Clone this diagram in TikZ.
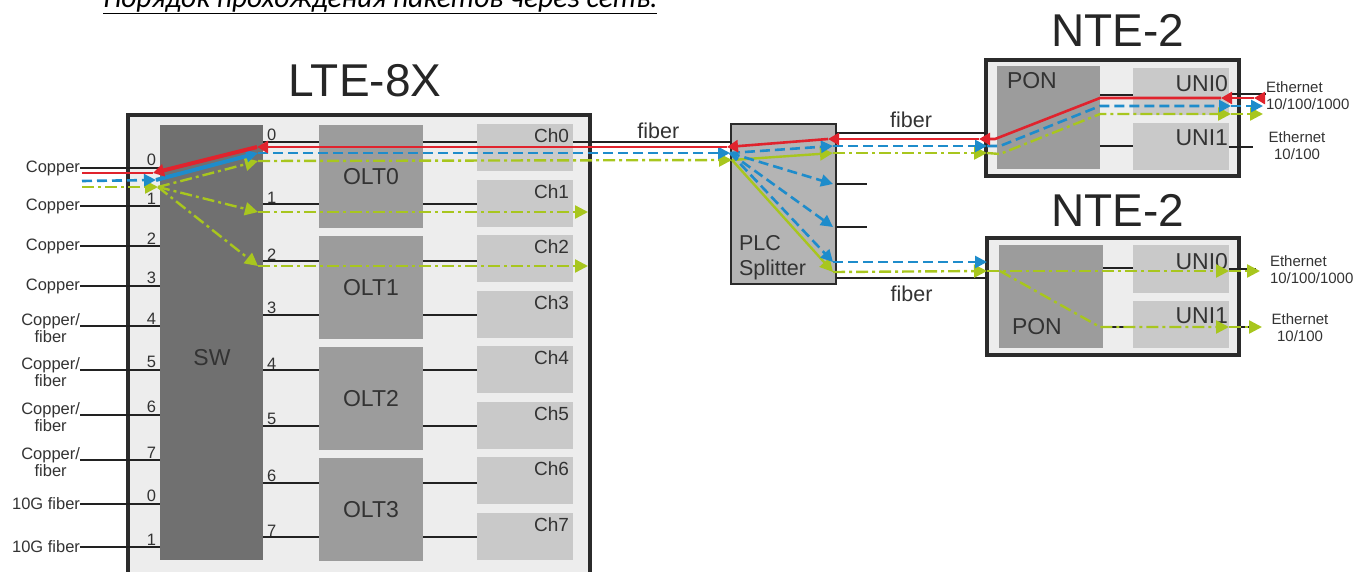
\documentclass[tikz,border=0pt]{standalone}
\usepackage{fontspec}
\setmainfont{Liberation Sans}
\newfontfamily\capfont{Carlito}
\usetikzlibrary{arrows.meta}
\definecolor{Frame}{HTML}{2B2B2B}
\definecolor{Mist}{HTML}{EDEDED}
\definecolor{SwGray}{HTML}{707070}
\definecolor{OltGray}{HTML}{9C9C9C}
\definecolor{ChGray}{HTML}{C9C9C9}
\definecolor{SplGray}{HTML}{B4B4B4}
\definecolor{TxtGray}{HTML}{333333}
\definecolor{WireBlack}{HTML}{222222}
\definecolor{UpRed}{HTML}{E0232D}
\definecolor{DnBlue}{HTML}{1E8CCB}
\definecolor{BcGreen}{HTML}{A8C61E}

\begin{document}
\begin{tikzpicture}[x=1pt,y=-1pt,
  every node/.style={inner sep=0pt,outer sep=0pt,text=TxtGray},
  wire/.style={draw=WireBlack,line width=1.4pt},
  upline/.style={UpRed,line width=2.6pt,-{Triangle[length=11pt,width=12pt]}},
  dnline/.style={DnBlue,line width=2.6pt,dash pattern=on 10pt off 5pt,-{Triangle[length=12pt,width=12pt]}},
  bcline/.style={BcGreen,line width=2.4pt,dash pattern=on 12pt off 4pt on 3pt off 4pt,-{Triangle[length=13pt,width=13pt]}},
  f15/.style={font=\fontsize{15}{17}\selectfont},
  f16/.style={font=\fontsize{16.5}{17}\selectfont},
  f19/.style={font=\fontsize{19}{22}\selectfont},
  f21/.style={font=\fontsize{21.5}{25}\selectfont},
  f23/.style={font=\fontsize{23}{27}\selectfont},
  f46/.style={font=\fontsize{46}{55}\selectfont,text=black!85}]
\useasboundingbox (0,0) rectangle (1368,571);

\node[anchor=base west,font=\capfont\itshape\fontsize{29.5}{34}\selectfont,text=black] (capt) at (103,7) {\underline{Порядок прохождения пакетов через сеть.}};

\node[anchor=north west,draw=Frame,line width=3.5pt,fill=Mist,minimum width=462pt,minimum height=480pt] (lte) at (128,115) {};
\node[anchor=north west,fill=SwGray,minimum width=103pt,minimum height=435pt] (sw) at (160,125) {};
\node[f23] (swl) at (212,358) {SW};
\foreach \i in {0,...,3}
  \node[anchor=north west,fill=OltGray,minimum width=104pt,minimum height=103pt,f23] (olt\i) at (319,125+111*\i) {OLT\i};
\foreach \i in {0,...,7} {
  \node[anchor=north west,fill=ChGray,minimum width=96pt,minimum height=47pt] (ch\i) at (477,124+55.5*\i) {};
  \node[anchor=north east,f19] (chl\i) at ([xshift=-4pt,yshift=-5pt]ch\i.north east) {Ch\i};
}
\node[f46] (ltet) at (365,81) {LTE-8X};

\node[anchor=north west,draw=Frame,line width=1.5pt,fill=SplGray,minimum width=105pt,minimum height=160pt] (spl) at (731,124) {};
\node[anchor=south west,align=left,f21] (spll) at ([xshift=8pt,yshift=4pt]spl.south west) {PLC\\Splitter};

\node[anchor=north west,draw=Frame,line width=3.5pt,fill=Mist,minimum width=253pt,minimum height=116pt] (nteA) at (986,60) {};
\node[anchor=north west,fill=OltGray,minimum width=103pt,minimum height=103pt] (ponA) at (997,66) {};
\node[anchor=north west,fill=ChGray,minimum width=96pt,minimum height=47pt] (uni0A) at (1133,68) {};
\node[anchor=north west,fill=ChGray,minimum width=96pt,minimum height=47pt] (uni1A) at (1133,123) {};
\node[anchor=north west,f23] (ponAl) at ([xshift=10pt,yshift=-6pt]ponA.north west) {PON};
\node[anchor=north east,f23] (uni0Al) at ([xshift=-1pt,yshift=-7pt]uni0A.north east) {UNI0};
\node[anchor=north east,f23] (uni1Al) at ([xshift=-1pt,yshift=-7pt]uni1A.north east) {UNI1};
\node[f46] (nteAt) at (1118,30) {NTE-2};

\node[anchor=north west,draw=Frame,line width=3.5pt,fill=Mist,minimum width=252pt,minimum height=117pt] (nteB) at (987,238) {};
\node[anchor=north west,fill=OltGray,minimum width=104pt,minimum height=103pt] (ponB) at (999,245) {};
\node[anchor=north west,fill=ChGray,minimum width=96pt,minimum height=48pt] (uni0B) at (1133,245) {};
\node[anchor=north west,fill=ChGray,minimum width=96pt,minimum height=47pt] (uni1B) at (1133,301) {};
\node[anchor=south west,f23] (ponBl) at ([xshift=13pt,yshift=13pt]ponB.south west) {PON};
\node[anchor=north east,f23] (uni0Bl) at ([xshift=-1pt,yshift=-8pt]uni0B.north east) {UNI0};
\node[anchor=north east,f23] (uni1Bl) at ([xshift=-1pt,yshift=-7pt]uni1B.north east) {UNI1};
\node[f46] (nteBt) at (1118,210) {NTE-2};

\node[anchor=west,align=left,f15] (ethA0) at (1266,96) {Ethernet\\10/100/1000};
\node[align=center,f15] (ethA1) at (1297,146) {Ethernet\\10/100};
\node[anchor=west,align=left,f15] (ethB0) at (1270,270) {Ethernet\\10/100/1000};
\node[align=center,f15] (ethB1) at (1300,328) {Ethernet\\10/100};

\node[anchor=east,f16] (in0) at (80,168) {Copper};
\node[anchor=east,f16] (in1) at (80,206) {Copper};
\node[anchor=east,f16] (in2) at (80,246) {Copper};
\node[anchor=east,f16] (in3) at (80,286) {Copper};
\node[anchor=north east,align=center,f16] (in4) at (80,314) {Copper/\\fiber};
\node[anchor=north east,align=center,f16] (in5) at (80,358) {Copper/\\fiber};
\node[anchor=north east,align=center,f16] (in6) at (80,403) {Copper/\\fiber};
\node[anchor=north east,align=center,f16] (in7) at (80,448) {Copper/\\fiber};
\node[anchor=east,f16] (in8) at (80,504) {10G fiber};
\node[anchor=east,f16] (in9) at (80,547) {10G fiber};

\foreach \i/\y/\n in {0/168/0,1/206/1,2/246/2,3/286/3,4/326/4,5/370/5,6/415/6,7/460/7,8/504/0,9/547/1}
  \draw[wire] (in\i.east |- 0,\y) -- (sw.west |- 0,\y) node[pos=1,anchor=south east,xshift=-4pt,yshift=2pt,f16] (pl\i) {\n};
\foreach \i/\y/\o in {0/142/0,1/204/0,2/261/1,3/315/1,4/370/2,5/426/2,6/483/3,7/537/3} {
  \draw[wire] (sw.east |- 0,\y) -- (olt\o.west |- 0,\y) node[pos=0,anchor=south west,xshift=4pt,yshift=1pt,f16] (pr\i) {\i};
  \draw[wire] (olt\o.east |- 0,\y) -- (ch\i.west |- 0,\y);
}

\draw[wire] (ch0.east |- 0,142) -- (spl.west |- 0,142) node[pos=0.54,anchor=south,yshift=3pt,f21] (fib0) {fiber};
\draw[wire] (spl.east |- 0,133) -- (nteA.west |- 0,133) node[midway,anchor=south,yshift=5pt,f21] (fib1) {fiber};
\draw[wire] (spl.east |- 0,278) -- (nteB.west |- 0,278) node[midway,anchor=north,yshift=-8pt,f21] (fib2) {fiber};
\coordinate (stub1) at (867,184);
\coordinate (stub2) at (867,227);
\draw[wire] (spl.east |- stub1) -- (stub1);
\draw[wire] (spl.east |- stub2) -- (stub2);

\coordinate (outA1) at (1253,147);
\coordinate (outB0) at (1256,269);
\coordinate (outB1) at (1256,327);
\draw[wire] (ponA.east |- 0,95) -- (uni0A.west |- 0,95);
\draw[wire] (ponA.east |- 0,146) -- (uni1A.west |- 0,146);
\draw[wire] (uni0A.east |- 0,94) -- (ethA0.west |- 0,94);
\draw[wire] (uni1A.east |- outA1) -- (outA1);
\draw[wire] (ponB.east |- 0,268) -- (uni0B.west |- 0,268);
\draw[wire] (ponB.east |- 0,327) -- (uni1B.west |- 0,327);
\draw[wire] (uni0B.east |- outB0) -- (outB0);
\draw[wire] (uni1B.east |- outB1) -- (outB1);

\foreach \n/\x/\y in {rA/82/173,rB/153/173,rC/257/147,rD/727/147,rE/828/139,rF/979/139,rG/995/139,rH/1100/98,rI/1221/98,rJ/1254/98,rK/1265/98,
  bA/82/181,bB/156/180,bC/258/153,bD/730/153,bE/833/146,bE1/833/184,bE2/833/227,bE3/833/262,bF/987/146,bG/1000/146,bH/1100/106,bI/1231/106,bJ/1263/106,bK/987/262,
  gA/82/187,gB/158/187,gC/258/161,gC1/258/212,gC2/258/266,gD/732/160,gD1/588/212,gD2/588/266,gE/833/153,gE3/833/272,gF/987/153,gG/1000/154,gH/1100/114,gI/1231/114,gJ/1263/114,
  gK/987/271,gL/1000/271,gM/1100/327,gN/1229/271,gO/1260/271,gP/1229/327,gQ/1262/327}
  \coordinate (\n) at (\x,\y);

\draw[bcline] (gA) -- (gB);
\foreach \e in {gC,gC1,gC2}
  \draw[bcline] (gB) -- (\e);
\draw[bcline] (gC) -- (gD);
\draw[bcline] (gC1) -- (gD1);
\draw[bcline] (gC2) -- (gD2);
\draw[bcline,solid] (gD) -- (gE);
\draw[bcline,solid] (gD) -- (gE3);
\draw[bcline] (gE) -- (gF);
\draw[bcline] (gE3) -- (gK);
\draw[bcline] (gF) -- (gG) -- (gH) -- (gI);
\draw[bcline] (gI) -- (gJ);
\draw[bcline] (gK) -- (gN);
\draw[bcline] (gN) -- (gO);
\draw[bcline] (gL) -- (gM) -- (gP);
\draw[bcline] (gP) -- (gQ);

\draw[dnline] (bA) -- (bB);
\draw[dnline,solid,line width=4pt] (bB) -- (bC);
\draw[dnline] (bC) -- (bD);
\foreach \e in {bE,bE1,bE2,bE3}
  \draw[dnline] (bD) -- (\e);
\draw[dnline] (bE) -- (bF);
\draw[dnline] (bF) -- (bG) -- (bH) -- (bI);
\draw[dnline] (bI) -- (bJ);
\draw[dnline] (bE3) -- (bK);

\draw[upline] (rK) -- (rJ);
\draw[upline] (rJ) -- (rI);
\draw[upline] (rI) -- (rH) -- (rG) -- (rF);
\draw[upline] (rF) -- (rE);
\draw[upline] (rE) -- (rD);
\draw[upline] (rD) -- (rC);
\draw[upline,line width=4pt] (rC) -- (rB);
\draw[upline,-] (rB) -- (rA);
\end{tikzpicture}
\end{document}
